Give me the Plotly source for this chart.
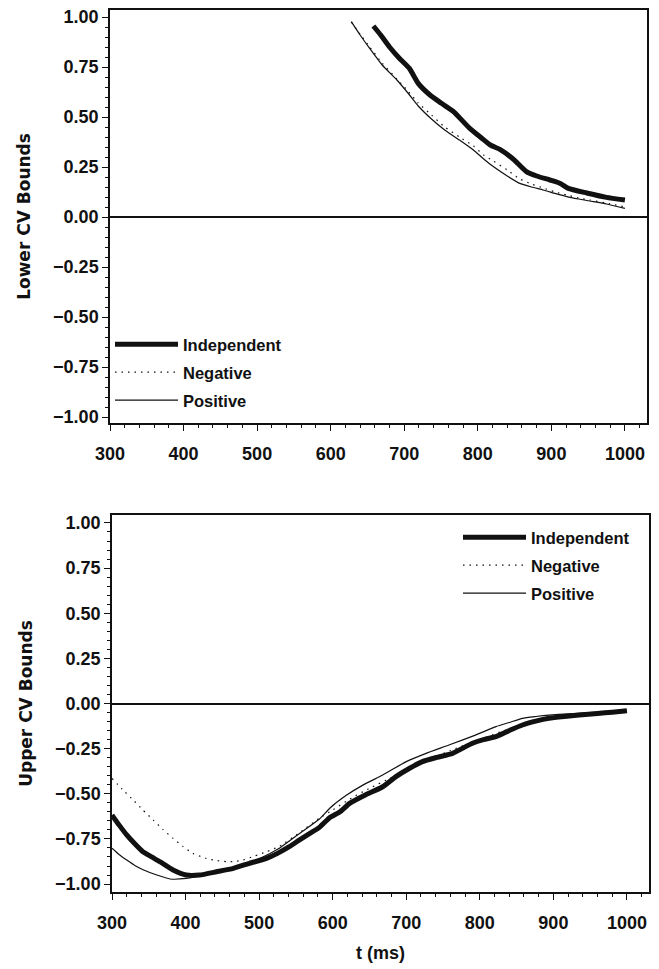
import plotly.graph_objects as go

# ---- Lower CV bounds (top panel) ----
ind_lower_t = [658, 668, 680, 693, 707, 719, 735, 750, 767, 789, 805, 817, 830, 848, 866, 880, 898, 912, 923, 948, 975, 1000]
ind_lower_v = [0.955, 0.91, 0.85, 0.795, 0.743, 0.668, 0.61, 0.57, 0.527, 0.443, 0.395, 0.36, 0.338, 0.29, 0.227, 0.205, 0.185, 0.168, 0.143, 0.12, 0.098, 0.085]

neg_lower_t = [628, 640, 653, 670, 690, 705, 719, 737, 755, 775, 794, 808, 821, 840, 857, 873, 889, 905, 921, 937, 952, 975, 1000]
neg_lower_v = [0.975, 0.915, 0.85, 0.77, 0.69, 0.63, 0.57, 0.51, 0.45, 0.40, 0.355, 0.31, 0.28, 0.235, 0.19, 0.165, 0.145, 0.125, 0.11, 0.095, 0.085, 0.07, 0.05]

pos_lower_t = [628, 640, 653, 670, 690, 705, 719, 737, 755, 775, 794, 808, 821, 840, 857, 873, 889, 905, 921, 937, 952, 975, 1000]
pos_lower_v = [0.977, 0.91, 0.843, 0.76, 0.685, 0.62, 0.555, 0.49, 0.435, 0.385, 0.335, 0.29, 0.252, 0.205, 0.168, 0.15, 0.135, 0.118, 0.102, 0.09, 0.08, 0.065, 0.043]

# ---- Upper CV bounds (bottom panel) ----
ind_upper_t = [300, 310, 320, 331, 342, 354, 365, 383, 401, 419, 442, 465, 487, 510, 525, 541, 555, 569, 582, 595, 610, 623, 645, 668, 686, 704, 722, 742, 763, 790, 805, 822, 840, 858, 876, 894, 915, 935, 960, 980, 1000]
ind_upper_v = [-0.618, -0.675, -0.728, -0.777, -0.821, -0.85, -0.876, -0.922, -0.95, -0.95, -0.932, -0.913, -0.885, -0.858, -0.83, -0.793, -0.755, -0.719, -0.686, -0.635, -0.6, -0.553, -0.505, -0.461, -0.405, -0.36, -0.322, -0.298, -0.276, -0.22, -0.2, -0.184, -0.15, -0.119, -0.098, -0.082, -0.072, -0.064, -0.055, -0.048, -0.04]

neg_upper_t = [300, 314, 329, 342, 356, 369, 383, 396, 410, 428, 442, 456, 467, 478, 494, 510, 528, 555, 582, 600, 623, 650, 680, 720, 760, 800, 840, 880, 920, 960, 1000]
neg_upper_v = [-0.415, -0.475, -0.535, -0.59, -0.645, -0.697, -0.747, -0.79, -0.83, -0.858, -0.87, -0.876, -0.875, -0.867, -0.845, -0.821, -0.79, -0.715, -0.635, -0.59, -0.53, -0.47, -0.41, -0.33, -0.26, -0.2, -0.14, -0.095, -0.066, -0.055, -0.045]

pos_upper_t = [300, 310, 320, 331, 343, 361, 379, 401, 420, 440, 460, 480, 500, 528, 555, 582, 596, 618, 641, 668, 700, 727, 758, 794, 822, 840, 858, 876, 894, 920, 948, 975, 1000]
pos_upper_v = [-0.802, -0.838, -0.867, -0.897, -0.922, -0.95, -0.972, -0.969, -0.955, -0.94, -0.915, -0.89, -0.86, -0.80, -0.72, -0.64, -0.58, -0.51, -0.452, -0.396, -0.322, -0.276, -0.23, -0.175, -0.128, -0.105, -0.082, -0.072, -0.064, -0.057, -0.051, -0.047, -0.045]

series_names = ["Independent", "Negative", "Positive"]
x_ticks = [300, 400, 500, 600, 700, 800, 900, 1000]
y_ticks = [1.0, 0.75, 0.5, 0.25, 0.0, -0.25, -0.5, -0.75, -1.0]

INK = "#111111"
line_styles = {
    "Independent": dict(color=INK, width=5, shape="spline", smoothing=0.5),
    "Negative": dict(color=INK, width=1.2, dash="1.5px,5px", shape="spline", smoothing=0.5),
    "Positive": dict(color=INK, width=1.2, shape="spline", smoothing=0.5),
}

fig = go.Figure()

panels = [
    ("x", "y", "legend", [(ind_lower_t, ind_lower_v), (neg_lower_t, neg_lower_v), (pos_lower_t, pos_lower_v)]),
    ("x2", "y2", "legend2", [(ind_upper_t, ind_upper_v), (neg_upper_t, neg_upper_v), (pos_upper_t, pos_upper_v)]),
]
for xa, ya, lg, data in panels:
    for name, (t, v) in zip(series_names, data):
        fig.add_trace(go.Scatter(
            x=t, y=v, mode="lines", name=name, line=line_styles[name],
            xaxis=xa, yaxis=ya, legend=lg, legendgroup=lg + name,
        ))

SANS = "Liberation Sans, Arial, sans-serif"
tick_font = dict(family=SANS, size=18, color=INK, weight="bold")
title_font = dict(family="DejaVu Sans, Verdana, sans-serif", size=17, color=INK, weight="bold")

H = 969.0
W = 659.0

def xaxis_cfg(domain, show_title):
    cfg = dict(
        domain=domain, range=[300, 1030], tickvals=x_ticks, ticks="outside",
        ticklen=6, tickwidth=1.3, tickcolor=INK, showline=True, linecolor=INK,
        linewidth=1.5, mirror=True, showgrid=False, zeroline=False,
        tickfont=tick_font, ticklabelstandoff=8, automargin=False,
        minor=dict(dtick=20, ticks="outside", ticklen=3, tickcolor=INK, tickwidth=1, showgrid=False),
    )
    if show_title:
        cfg["title"] = dict(text="t (ms)", font=dict(family=SANS, size=18, color=INK, weight="bold"), standoff=14)
    return cfg

def yaxis_cfg(domain, anchor, rng, title):
    return dict(
        domain=domain, anchor=anchor, range=rng, tickvals=y_ticks, tickformat=".2f",
        ticks="outside", ticklen=6, tickwidth=1.3, tickcolor=INK, showline=True,
        linecolor=INK, linewidth=1.5, mirror=True, showgrid=False,
        zeroline=True, zerolinecolor=INK, zerolinewidth=1.5,
        tickfont=tick_font, automargin=False,
        minor=dict(dtick=0.05, ticks="outside", ticklen=3, tickcolor=INK, tickwidth=1, showgrid=False),
        title=dict(text=title, font=title_font, standoff=18),
    )

legend_font = dict(family=SANS, size=16.5, color=INK, weight="bold")

fig.update_layout(
    width=659, height=969,
    margin=dict(l=0, r=0, t=0, b=0),
    paper_bgcolor="white", plot_bgcolor="white",
    xaxis=xaxis_cfg([110 / W, 647 / W], False) | dict(anchor="y"),
    yaxis=yaxis_cfg([1 - 423 / H, 1 - 10 / H], "x", [-1.03, 1.035], "Lower CV Bounds"),
    xaxis2=xaxis_cfg([112 / W, 649 / W], True) | dict(anchor="y2"),
    yaxis2=yaxis_cfg([1 - 892 / H, 1 - 515 / H], "x2", [-1.044, 1.044], "Upper CV Bounds"),
    legend=dict(
        x=110 / W, y=1 - 327 / H, xanchor="left", yanchor="top",
        bgcolor="rgba(0,0,0,0)", font=legend_font, itemwidth=63,
        tracegroupgap=3.5, traceorder="grouped",
    ),
    legend2=dict(
        x=458 / W, y=1 - 520 / H, xanchor="left", yanchor="top",
        bgcolor="rgba(0,0,0,0)", font=legend_font, itemwidth=63,
        tracegroupgap=3.5, traceorder="grouped",
    ),
    showlegend=True,
)

fig.write_html("out.html")
